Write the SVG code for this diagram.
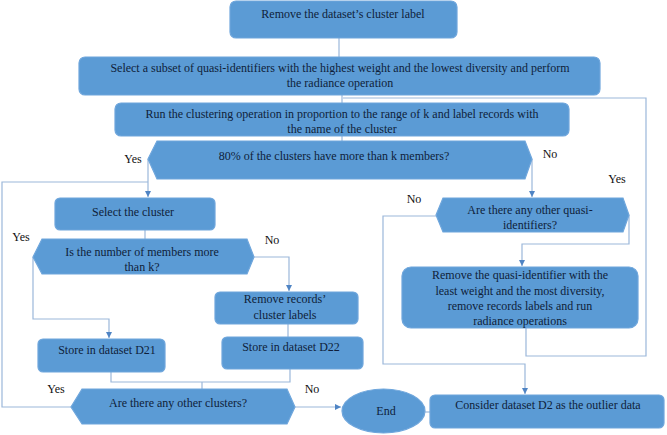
<svg xmlns="http://www.w3.org/2000/svg" width="667" height="435" viewBox="0 0 667 435">
<style>
.n{fill:#5b9bd5;stroke:#6fa6dc;stroke-width:1.2}
.t{fill:#0f1e3a;text-anchor:middle;font-size:12px}
.l{fill:#111;text-anchor:middle;font-size:12px}
.c{fill:none;stroke:#9bb7da;stroke-width:1.2}
</style>
<defs>
<marker id="a" markerWidth="8" markerHeight="8" refX="6" refY="3" orient="auto" markerUnits="userSpaceOnUse">
<path d="M0,0 L6,3 L0,6 Z" fill="#4f84c4"/>
</marker>
</defs>
<rect width="667" height="435" fill="#fff"/>
<g id="connectors">
<path class="c" d="M339,38 V57"/>
<path class="c" d="M342,95 V103"/>
<path class="c" d="M342,136 V141"/>
<path class="c" d="M148,159 V197" marker-end="url(#a)"/>
<path class="c" d="M71,407 H2 V182 H148"/>
<path class="c" d="M145,230 V239"/>
<path class="c" d="M33,257 V319 H109 V338" marker-end="url(#a)"/>
<path class="c" d="M254,257 H289 V291" marker-end="url(#a)"/>
<path class="c" d="M288,324 V337"/>
<path class="c" d="M111,372 V382 H290 V369"/>
<path class="c" d="M202,382 V389"/>
<path class="c" d="M295,407 H341" marker-end="url(#a)"/>
<path class="c" d="M532,159 V197" marker-end="url(#a)"/>
<path class="c" d="M436,216 H383 V364 H525 V394" marker-end="url(#a)"/>
<path class="c" d="M629,215 V244 H522 V266" marker-end="url(#a)"/>
<path class="c" d="M526,328 V356 H646 V98 H343"/>
<path class="c" d="M425,412 H430"/>
</g>
<g font-family="Liberation Serif, Tinos, Times New Roman, Noto Serif, DejaVu Serif, serif">
<g id="n1"><rect class="n" x="230" y="1" width="227" height="37" rx="6"/><text class="t" x="343" y="18">Remove the dataset’s cluster label</text></g>
<g id="n2"><rect class="n" x="79" y="57" width="521" height="38" rx="6"/><text class="t" x="340" y="72">Select a subset of quasi-identifiers with the highest weight and the lowest diversity and perform</text><text class="t" x="340" y="87">the radiance operation</text></g>
<g id="n3"><rect class="n" x="115" y="103" width="454" height="33" rx="6"/><text class="t" x="342" y="118">Run the clustering operation in proportion to the range of k and label records with</text><text class="t" x="342" y="133">the name of the cluster</text></g>
<g id="d1"><polygon class="n" points="157,141 525,141 532,159 525,179 157,179 148,159"/><text class="t" x="334" y="160">80% of the clusters have more than k members?</text></g>
<g id="n4"><rect class="n" x="55" y="198" width="160" height="32" rx="5"/><text class="t" x="133" y="216">Select the cluster</text></g>
<g id="d2"><polygon class="n" points="42,239 247,239 254,257 247,274 42,274 33,257"/><text class="t" x="142" y="256">Is the number of members more</text><text class="t" x="142" y="271">than k?</text></g>
<g id="n5"><rect class="n" x="215" y="292" width="143" height="32" rx="5"/><text class="t" x="285" y="303">Remove records’</text><text class="t" x="285" y="319">cluster labels</text></g>
<g id="n6"><rect class="n" x="38" y="339" width="127" height="33" rx="5"/><text class="t" x="107" y="354">Store in dataset D21</text></g>
<g id="n7"><rect class="n" x="222" y="337" width="141" height="32" rx="5"/><text class="t" x="291" y="351">Store in dataset D22</text></g>
<g id="d3"><polygon class="n" points="82,389 287,389 295,407 287,424 82,424 71,407"/><text class="t" x="178" y="407">Are there any other clusters?</text></g>
<g id="end"><ellipse class="n" cx="383.5" cy="411" rx="41.5" ry="22"/><text class="t" x="386" y="415">End</text></g>
<g id="n8"><rect class="n" x="430" y="395" width="234" height="33" rx="5"/><text class="t" x="548" y="409">Consider dataset D2 as the outlier data</text></g>
<g id="d4"><polygon class="n" points="443,198 623,198 629,215 623,232 443,232 436,215"/><text class="t" x="530" y="214">Are there any other quasi-</text><text class="t" x="530" y="229">identifiers?</text></g>
<g id="n9"><rect class="n" x="402" y="267" width="236" height="61" rx="9"/><text class="t" x="520" y="279">Remove the quasi-identifier with the</text><text class="t" x="520" y="295">least weight and the most diversity,</text><text class="t" x="520" y="310">remove records labels and run</text><text class="t" x="520" y="325">radiance operations</text></g>
<g id="labels">
<text class="l" x="133" y="163">Yes</text>
<text class="l" x="550" y="158">No</text>
<text class="l" x="414" y="203">No</text>
<text class="l" x="617" y="183">Yes</text>
<text class="l" x="21" y="241">Yes</text>
<text class="l" x="272" y="244">No</text>
<text class="l" x="56" y="393">Yes</text>
<text class="l" x="312" y="393">No</text>
</g>
</g>
</svg>
